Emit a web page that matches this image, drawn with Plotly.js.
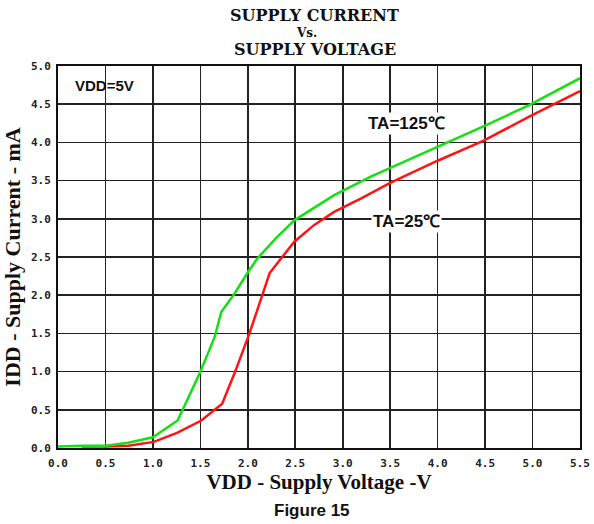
<!DOCTYPE html>
<html>
<head>
<meta charset="utf-8">
<script src="https://cdn.plot.ly/plotly-3.0.1.min.js"></script>
<style>html,body{margin:0;padding:0;background:#fff;}#chart{width:594px;height:524px;}</style>
</head>
<body>
<div id="chart"></div>
<script>
// Supply voltage (V) / supply current (mA)
const vdd125 = [0, 0.25, 0.5, 0.74, 1.0, 1.26, 1.31, 1.49, 1.65, 1.72, 1.86, 2.0, 2.1, 2.19, 2.3, 2.49, 2.7, 2.91, 3.29, 3.6, 4.02, 4.5, 4.97, 5.5];
const idd125 = [0.02, 0.03, 0.03, 0.07, 0.14, 0.36, 0.49, 0.97, 1.45, 1.78, 2.02, 2.30, 2.48, 2.60, 2.75, 2.98, 3.15, 3.31, 3.55, 3.72, 3.96, 4.22, 4.49, 4.84];
const vdd25 = [0.25, 0.5, 0.74, 1.01, 1.26, 1.51, 1.73, 1.87, 2.02, 2.14, 2.23, 2.35, 2.49, 2.7, 2.91, 3.2, 3.5, 4.0, 4.48, 4.97, 5.5];
const idd25 = [0.02, 0.02, 0.03, 0.08, 0.20, 0.36, 0.58, 1.01, 1.51, 1.94, 2.29, 2.48, 2.70, 2.92, 3.09, 3.27, 3.47, 3.76, 4.02, 4.34, 4.67];
const xTickVals = [0, 0.5, 1, 1.5, 2, 2.5, 3, 3.5, 4, 4.5, 5, 5.5];
const xTickText = ['0.0','0.5','1.0','1.5','2.0','2.5','3.0','3.5','4.0','4.5','5.0','5.5'];
const yTickVals = [0, 0.5, 1, 1.5, 2, 2.5, 3, 3.5, 4, 4.5, 5];
const yTickText = ['0.0','0.5','1.0','1.5','2.0','2.5','3.0','3.5','4.0','4.5','5.0'];
const titleLines = ['SUPPLY CURRENT', 'Vs.', 'SUPPLY VOLTAGE'];
const labels = ['VDD=5V', 'TA=125℃', 'TA=25℃'];

const traces = [
  {x: vdd25, y: idd25, type: 'scatter', mode: 'lines', line: {color: '#ff1414', width: 2.5}, hoverinfo: 'skip'},
  {x: vdd125, y: idd125, type: 'scatter', mode: 'lines', line: {color: '#14e014', width: 2.5}, hoverinfo: 'skip'}
];

const serifT = '"DejaVu Serif", "Liberation Serif", serif';
const serif = '"Liberation Serif", "DejaVu Serif", serif';
const sans = '"Liberation Sans", Arial, sans-serif';
const plotTop = 66, plotBottom = 448;
function py(p){ return (plotBottom - p) / (plotBottom - plotTop); }

const layout = {
  width: 594, height: 524,
  margin: {l: 58, r: 14, t: 66, b: 76},
  paper_bgcolor: '#fff', plot_bgcolor: '#fff',
  showlegend: false,
  xaxis: {
    range: [0, 5.5], tickvals: xTickVals, ticktext: xTickText,
    showgrid: true, gridcolor: '#222', gridwidth: 1.6,
    showline: true, linecolor: '#111', linewidth: 2, mirror: true,
    zeroline: false, ticks: '', ticklabelstandoff: 4,
    tickfont: {family: '"DejaVu Sans Mono", monospace', size: 11, color: '#222', weight: 'bold'},
    title: {text: 'VDD - Supply Voltage -V', standoff: 4,
      font: {family: serif, size: 21, color: '#111', weight: 'bold'}}
  },
  yaxis: {
    range: [0, 5], tickvals: yTickVals, ticktext: yTickText,
    showgrid: true, gridcolor: '#222', gridwidth: 1.6,
    showline: true, linecolor: '#111', linewidth: 2, mirror: true,
    zeroline: false, ticks: '', ticklabelstandoff: 3,
    tickfont: {family: '"DejaVu Sans Mono", monospace', size: 11, color: '#222', weight: 'bold'},
    title: {text: 'IDD - Supply Current - mA', standoff: 14,
      font: {family: serif, size: 22, color: '#111', weight: 'bold'}}
  },
  annotations: [
    {xref: 'paper', yref: 'paper', x: 0.492, y: py(15.5), xanchor: 'center', yanchor: 'middle', text: titleLines[0], showarrow: false,
      font: {family: serifT, size: 16, color: '#111', weight: 'bold'}},
    {xref: 'paper', yref: 'paper', x: 0.477, y: py(32.5), xanchor: 'center', yanchor: 'middle', text: titleLines[1], showarrow: false,
      font: {family: serifT, size: 12, color: '#111', weight: 'bold'}},
    {xref: 'paper', yref: 'paper', x: 0.492, y: py(49.5), xanchor: 'center', yanchor: 'middle', text: titleLines[2], showarrow: false,
      font: {family: serifT, size: 16, color: '#111', weight: 'bold'}},
    {xref: 'x', yref: 'y', x: 0.485, y: 4.75, xanchor: 'center', yanchor: 'middle', text: labels[0], showarrow: false,
      font: {family: sans, size: 15, color: '#111', weight: 'bold'}},
    {xref: 'x', yref: 'y', x: 3.67, y: 4.25, xanchor: 'center', yanchor: 'middle', text: labels[1], showarrow: false, bgcolor: '#fff',
      font: {family: sans, size: 17, color: '#111', weight: 'bold'}},
    {xref: 'x', yref: 'y', x: 3.67, y: 2.97, xanchor: 'center', yanchor: 'middle', text: labels[2], showarrow: false, bgcolor: '#fff',
      font: {family: sans, size: 17, color: '#111', weight: 'bold'}},
    {xref: 'paper', yref: 'paper', x: 0.486, y: py(510), xanchor: 'center', yanchor: 'middle', text: 'Figure 15', showarrow: false,
      font: {family: sans, size: 17, color: '#111', weight: 'bold'}}
  ]
};

Plotly.newPlot('chart', traces, layout, {staticPlot: true, displayModeBar: false});
</script>
</body>
</html>
